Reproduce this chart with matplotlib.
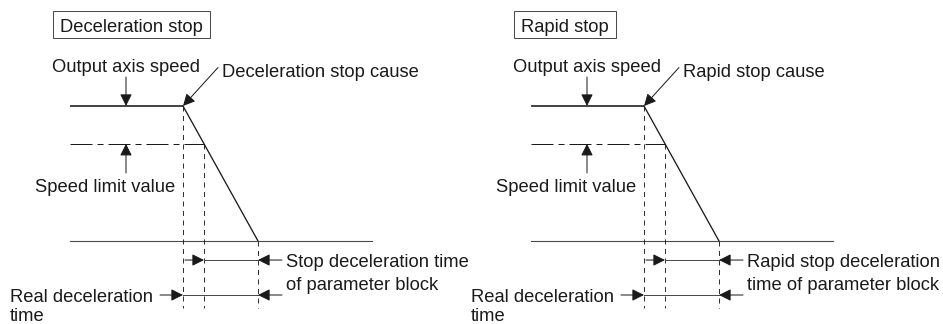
import matplotlib
matplotlib.use("Agg")
import matplotlib.pyplot as plt
from matplotlib.patches import Rectangle
from matplotlib.transforms import IdentityTransform

plt.rcParams['font.family'] = ['Liberation Sans', 'DejaVu Sans']
plt.rcParams['lines.scale_dashes'] = False

# speed profile (time in arbitrary units, speed in % of command speed)
t_cause = 113
t_stop = 188
t_end = 302
speed_max = 100
speed_limit = 72
profile_t = [0, t_cause, t_stop]
profile_v = [speed_max, speed_max, 0]
# time at which the decelerating speed passes the speed limit value
t_limit = t_cause + (speed_max - speed_limit) / speed_max * (t_stop - t_cause)

titles = ['Deceleration stop', 'Rapid stop']
cause_labels = ['Deceleration stop cause', 'Rapid stop cause']
param_labels = [['Stop deceleration time', 'of parameter block'],
                ['Rapid stop deceleration', 'time of parameter block']]

W, H = 943, 324
fig = plt.figure(figsize=(W / 72, H / 72), dpi=72)

FS = 18.4
BLK = '#1a1a1a'
GRY = '#4a4a4a'
head = dict(arrowstyle='-|>,head_length=1.0,head_width=0.5', mutation_scale=10,
            color=BLK, lw=1.0, shrinkA=0, shrinkB=0)


def arrow(ax, tip, tail, color=GRY):
    p = dict(head)
    p['color'] = color
    ax.annotate('', xy=tip, xytext=tail, arrowprops=p)


boxes = []
for i, dx in enumerate([0, 461]):
    ax = fig.add_axes([0, 0, 1, 1])
    ax.set_xlim(-70 - dx, W - 70 - dx)
    ax.set_ylim(-(H - 241) / 1.35, 241 / 1.35)
    ax.axis('off')
    ax.patch.set_alpha(0)

    # title box
    t = ax.text(-10, 155, titles[i], fontsize=FS, ha='left', va='baseline', color=BLK)
    boxes.append(t)

    # speed profile
    ax.plot(profile_t[:2], profile_v[:2], color=BLK, lw=1.6, solid_capstyle='butt')
    ax.plot(profile_t[1:], profile_v[1:], color=BLK, lw=1.3)
    ax.plot([0, t_end], [0, 0], color=GRY, lw=1.1)
    ax.plot([0, t_limit], [speed_limit, speed_limit], color=BLK, lw=1.0,
            linestyle=(0, (22, 5, 6, 5)))

    # vertical dashed guides
    y_low = -49.6
    for tx, top in [(t_cause, speed_max), (t_limit, speed_limit), (t_stop, 0)]:
        ax.plot([tx, tx], [top, y_low], color=BLK, lw=0.9, linestyle=(0, (5, 4.5)))

    # labels with arrows
    ax.text(-18, 125.2, 'Output axis speed', fontsize=FS, ha='left', va='baseline', color=BLK)
    arrow(ax, (56, speed_max), (56, 121.5), BLK)
    ax.text(152, 121.5, cause_labels[i], fontsize=FS, ha='left', va='baseline', color=BLK)
    arrow(ax, (t_cause, speed_max), (148, 128.5), BLK)
    arrow(ax, (56, speed_limit), (56, 50.4), BLK)
    ax.text(-35, 36.3, 'Speed limit value', fontsize=FS, ha='left', va='baseline', color=BLK)

    # dimension arrows
    y1, y2 = -14.1, -40.0
    arrow(ax, (t_limit, y1), (t_cause + 2, y1), BLK)
    ax.plot([t_limit, t_stop], [y1, y1], color=GRY, lw=1.0)
    arrow(ax, (t_stop, y1), (t_stop + 24, y1), BLK)
    arrow(ax, (t_cause, y2), (t_cause - 23, y2), BLK)
    ax.plot([t_cause, t_stop], [y2, y2], color=GRY, lw=1.0)
    arrow(ax, (t_stop, y2), (t_stop + 24, y2), BLK)

    ax.text(216, -19.5, param_labels[i][0], fontsize=FS, ha='left', va='baseline', color=BLK)
    ax.text(216, -36.3, param_labels[i][1], fontsize=FS, ha='left', va='baseline', color=BLK)
    ax.text(-60, -45.0, 'Real deceleration', fontsize=FS, ha='left', va='baseline', color=BLK)
    ax.text(-60, -59.0, 'time', fontsize=FS, ha='left', va='baseline', color=BLK)

fig.canvas.draw()
r = fig.canvas.get_renderer()
for t in boxes:
    bb = t.get_window_extent(r)
    rect = Rectangle((bb.x0 - 7.5, H - 38), bb.width + 15, 27, fill=False,
                     edgecolor=GRY, lw=1.0, transform=IdentityTransform())
    fig.add_artist(rect)

fig.savefig('out.png', dpi=72, facecolor='white')
